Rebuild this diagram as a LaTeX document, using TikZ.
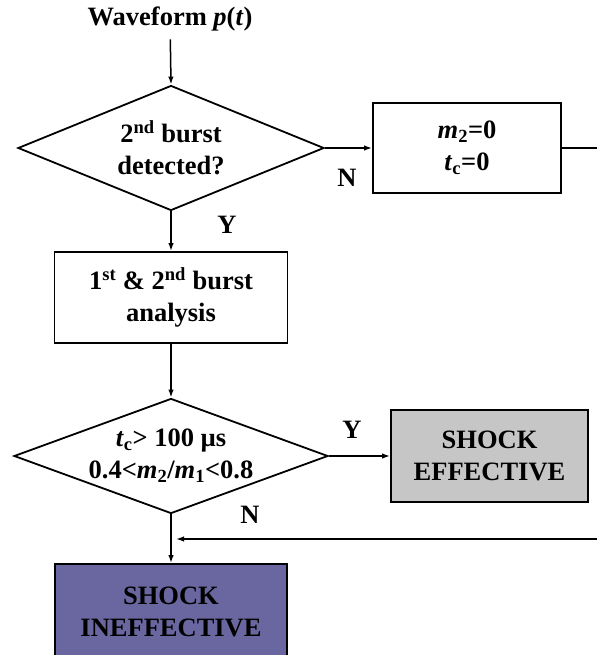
\documentclass[tikz,border=0pt]{standalone}
\usepackage{fontspec}
\setmainfont{Liberation Serif}
\usetikzlibrary{shapes.geometric,arrows.meta}
\definecolor{effgray}{RGB}{198,198,198}
\definecolor{ineffblue}{RGB}{106,103,160}
\begin{document}
\begin{tikzpicture}[x=1pt,y=-1pt,line width=1.8pt,
		every node/.style={font=\fontsize{26.5}{32}\selectfont\bfseries,align=center},
		decision/.style={draw,diamond,inner sep=0pt},
		block/.style={draw,rectangle,inner sep=0pt},
		flow/.style={-{Latex[length=8pt,width=5.5pt]},line width=1.5pt},
		yn/.style={inner sep=0pt}]
		\useasboundingbox (0,0) rectangle (597,655);
		\node (wave) at (170,19) {Waveform \textit{p}(\textit{t})};
		\node[decision,aspect=2.45,minimum width=306pt,minimum height=125pt] (det) at (171,148)
			{2\textsuperscript{nd} burst\\detected?};
		\node[block,minimum width=188pt,minimum height=90pt] (zero) at (467,148)
			{\textit{m}\textsubscript{2}=0\\\textit{t}\textsubscript{c}=0};
		\node[block,minimum width=233pt,minimum height=91pt] (ana) at (171,297.5)
			{1\textsuperscript{st} \& 2\textsuperscript{nd} burst\\analysis};
		\node[decision,aspect=2.73,minimum width=314pt,minimum height=115pt] (crit) at (171,456)
			{\textit{t}\textsubscript{c}> 100 µs\\0.4<\textit{m}\textsubscript{2}/\textit{m}\textsubscript{1}<0.8};
		\node[block,fill=effgray,minimum width=197pt,minimum height=92pt] (eff) at (489.5,456)
			{SHOCK\\EFFECTIVE};
		\node[block,fill=ineffblue,minimum width=232pt,minimum height=96pt] (ineff) at (171,612)
			{SHOCK\\INEFFECTIVE};
		% loose ends at the right edge
		\coordinate (out) at (597,148);
		\coordinate (back) at (597,539);
		\draw[flow,shorten <=4pt] (wave) -- (det.north);
		\draw[flow] (det.east) -- (zero.west);
		\draw (zero.east) -- (out);
		\draw[flow] (det.south) -- (ana.north);
		\draw[flow] (ana.south) -- (crit.north);
		\draw[flow] (crit.east) -- (eff.west);
		\draw[flow] (crit.south) -- (ineff.north);
		\draw[flow,shorten >=5pt] (back) -- (crit.south |- back);
		% branch labels
		\node[yn] (n1) at (347,178) {N};
		\node[yn] (y1) at (227,225) {Y};
		\node[yn] (y2) at (352,430) {Y};
		\node[yn] (n2) at (250,515) {N};
	\end{tikzpicture}
\end{document}
